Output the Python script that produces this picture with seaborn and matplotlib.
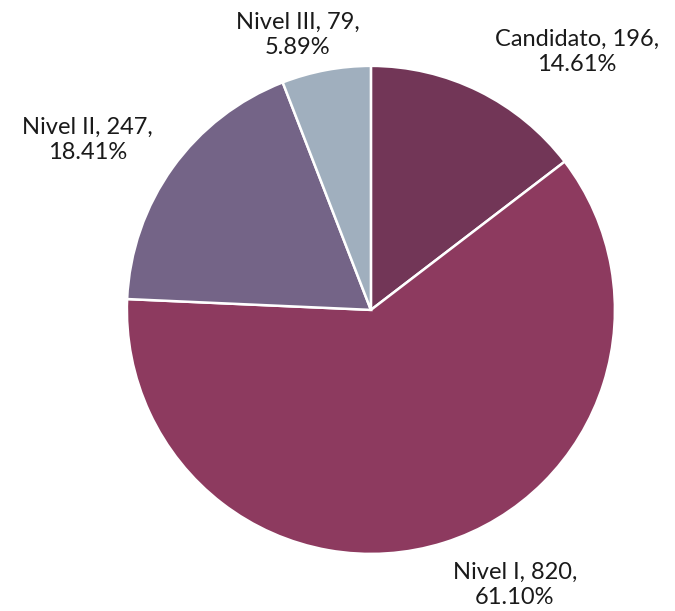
import matplotlib
matplotlib.use("Agg")
import matplotlib.pyplot as plt
import seaborn as sns

# datos
categorias = ["Candidato", "Nivel I", "Nivel II", "Nivel III"]
valores = [196, 820, 247, 79]
porcentajes = ["14.61%", "61.10%", "18.41%", "5.89%"]
colores = ["#723657", "#8D3A5F", "#746487", "#A0AFBE"]

sns.set_theme(style="white")
plt.rcParams["font.family"] = ["Lato", "DejaVu Sans"]

fig = plt.figure(figsize=(6.75, 6.11), dpi=100)
ax = fig.add_axes([0.188, 0.0933, 0.723, 0.799])

ax.pie(valores, colors=sns.color_palette(colores), startangle=90, counterclock=False,
       wedgeprops=dict(edgecolor="white", linewidth=1.8))
ax.set_xlim(-1, 1)
ax.set_ylim(-1, 1)

# posiciones de las etiquetas (coordenadas de datos)
pos_etiquetas = [(0.844, 1.057), (0.59, -1.127), (-1.16, 0.697), (-0.30, 1.127)]
for cat, val, pct, (x, y) in zip(categorias, valores, porcentajes, pos_etiquetas):
    ax.text(x, y, f"{cat}, {val},\n{pct}", ha="center", va="center",
            fontsize=17, color="#1a1a1a", linespacing=1.2, clip_on=False)

fig.savefig("out.png", dpi=100)
